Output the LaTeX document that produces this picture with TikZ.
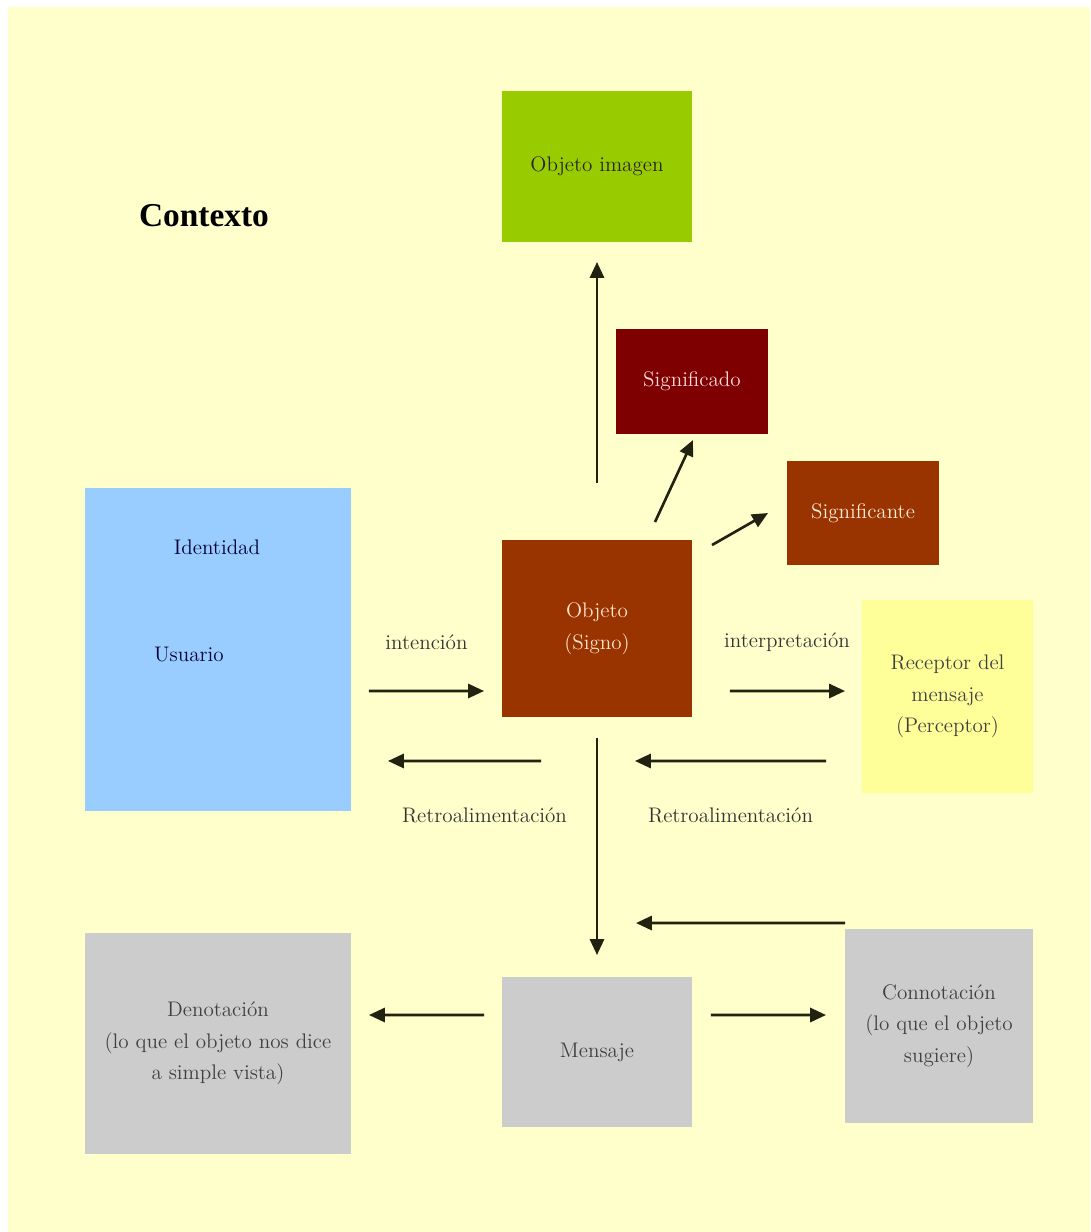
\documentclass[tikz,border=0pt]{standalone}
\usepackage{fontspec}
\newfontfamily\titulo{Liberation Serif}
\usetikzlibrary{arrows.meta}
\definecolor{fondo}{HTML}{FFFFCC}
\definecolor{verde}{HTML}{99CC00}
\definecolor{granate}{HTML}{7F0000}
\definecolor{teja}{HTML}{993300}
\definecolor{celeste}{HTML}{99CCFF}
\definecolor{amarillo}{HTML}{FFFF99}
\definecolor{gris}{HTML}{CCCCCC}
\definecolor{linea}{HTML}{222211}
\tikzset{
	caja/.style={inner sep=2pt,outer sep=0pt,align=center,font=\fontsize{12}{18}\selectfont},
	flecha/.style={-{Triangle[length=9pt,width=8pt]},line width=1.5pt,color=linea},
	rotulo/.style={font=\fontsize{12}{14}\selectfont,text=black!80}
}
\begin{document}
\begin{tikzpicture}[x=0.02cm,y=-0.02cm]
	\useasboundingbox (0,0) rectangle (1090,1232);
	\fill[white] (0,0) rectangle (1090,1232);
	\fill[fondo] (8,7) rectangle (1090,1232);
	\node[font=\titulo\bfseries\fontsize{19}{22}\selectfont] (contexto) at (204,216) {Contexto};
	% cajas
	\node[caja,fill=verde,text=black!85,minimum width=3.8cm,minimum height=3.02cm] (imagen) at (597,166.5) {Objeto imagen};
	\node[caja,fill=granate,text=red!15,minimum width=3.04cm,minimum height=2.1cm] (significado) at (692,381.5) {Significado};
	\node[caja,fill=teja,text=orange!15,minimum width=3.04cm,minimum height=2.08cm] (significante) at (863,513) {Significante};
	\node[caja,fill=teja,text=orange!20,minimum width=3.8cm,minimum height=3.54cm] (objeto) at (597,628.5) {Objeto\\(Signo)};
	\node[caja,fill=celeste,minimum width=5.32cm,minimum height=6.46cm] (usuario) at (218,649.5) {};
	\node[caja,text=blue!20!black] (identidad) at (217,547) {Identidad};
	\node[caja,text=blue!20!black] (usu) at (189,655) {Usuario};
	\node[caja,fill=amarillo,text=black!75,minimum width=3.42cm,minimum height=3.86cm] (receptor) at (947.5,696.5) {Receptor del\\mensaje\\(Perceptor)};
	\node[caja,fill=gris,text=black!75,minimum width=5.32cm,minimum height=4.42cm] (denotacion) at (218,1043.5) {Denotación\\(lo que el objeto nos dice\\a simple vista)};
	\node[caja,fill=gris,text=black!75,minimum width=3.8cm,minimum height=3cm] (mensaje) at (597,1052) {Mensaje};
	\node[caja,fill=gris,text=black!75,minimum width=3.76cm,minimum height=3.88cm] (connotacion) at (939,1026) {Connotación\\(lo que el objeto\\sugiere)};
	% flechas
	\draw[flecha,shorten <=1.14cm,shorten >=0.4cm] (objeto.north) -- (imagen.south);
	\draw[flecha] ([xshift=1.16cm,yshift=0.36cm]objeto.north) -- ([xshift=0.02cm,yshift=-0.12cm]significado.south);
	\draw[flecha] ([xshift=0.4cm,yshift=-0.1cm]objeto.north east) -- ([xshift=-0.38cm]significante.west);
	\draw[flecha,shorten <=0.36cm,shorten >=0.36cm] ([yshift=-0.83cm]usuario.east) -- ([yshift=-1.25cm]objeto.west)
		node[rotulo,midway,yshift=0.98cm] (intencion) {intención};
	\draw[flecha,shorten <=0.76cm,shorten >=0.34cm] ([yshift=-1.25cm]objeto.east) -- ([yshift=0.11cm]receptor.west)
		node[rotulo,midway,yshift=0.98cm,xshift=0.2cm] (interpretacion) {interpretación};
	\draw[flecha] ([xshift=-1.12cm,yshift=-0.88cm]objeto.south) -- ([xshift=0.74cm,yshift=-2.23cm]usuario.east)
		node[rotulo,midway,yshift=-1.08cm,xshift=0.4cm] (retro1) {Retroalimentación};
	\draw[flecha] ([xshift=-0.72cm,yshift=-1.29cm]receptor.west) -- ([xshift=0.76cm,yshift=-0.88cm]objeto.south)
		node[rotulo,midway,yshift=-1.08cm] (retro2) {Retroalimentación};
	\draw[flecha,shorten <=0.42cm,shorten >=0.44cm] (objeto.south) -- (mensaje.north);
	\draw[flecha] ([yshift=0.12cm]connotacion.north west) -- ([xshift=0.78cm,yshift=1.08cm]mensaje.north);
	\draw[flecha] ([xshift=-0.36cm,yshift=0.74cm]mensaje.west) -- ([xshift=0.36cm,yshift=0.57cm]denotacion.east);
	\draw[flecha] ([xshift=0.38cm,yshift=0.74cm]mensaje.east) -- ([xshift=-0.38cm,yshift=0.22cm]connotacion.west);
\end{tikzpicture}
\end{document}
